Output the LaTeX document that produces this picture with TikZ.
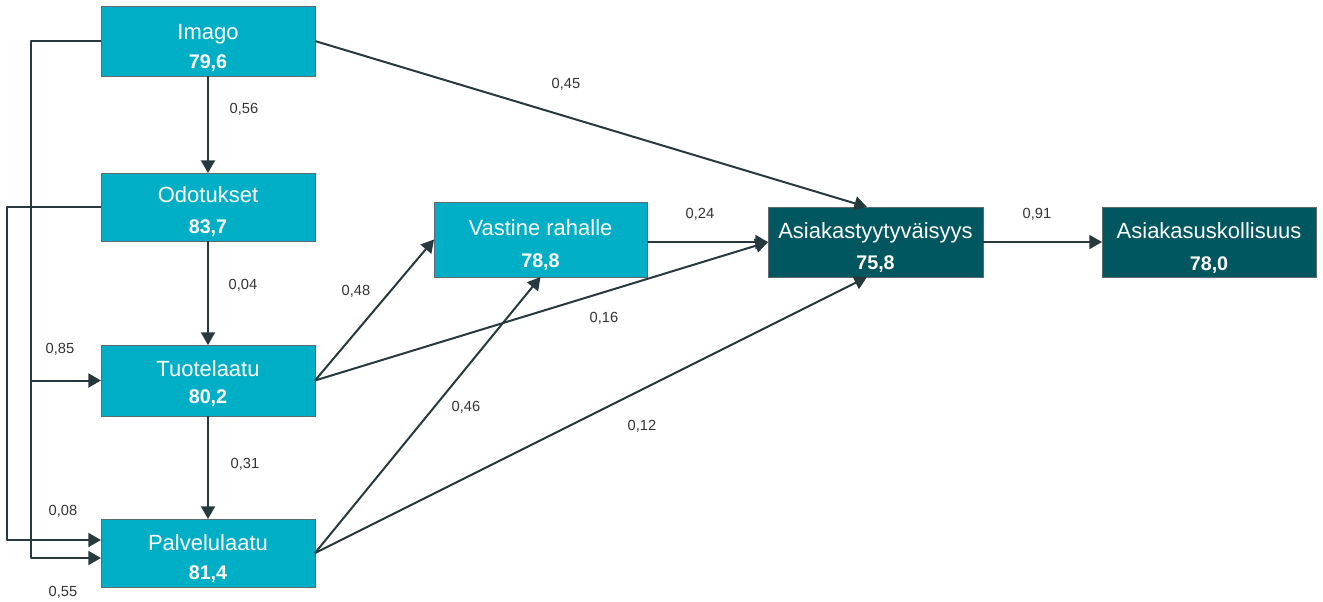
\documentclass[tikz,border=0pt]{standalone}
\usepackage{fontspec}
\setmainfont{Liberation Sans}
\usetikzlibrary{arrows.meta}
\definecolor{boxcyan}{HTML}{00AFC6}
\definecolor{boxdark}{HTML}{00575F}
\definecolor{linec}{HTML}{263A3E}
\definecolor{boxedge}{HTML}{5E6B6E}
\definecolor{labc}{HTML}{333333}
\begin{document}
\begin{tikzpicture}[x=0.75pt,y=-0.75pt,
  lbox/.style={rectangle, fill=boxcyan, draw=boxedge, line width=0.6pt, inner sep=0pt, outer sep=0pt, minimum width=160.5pt},
  dbox/.style={lbox, fill=boxdark},
  ttl/.style={anchor=base, inner sep=0pt, text=white, font=\fontsize{16.5}{19}\selectfont},
  num/.style={anchor=base, inner sep=0pt, text=white, font=\fontsize{14.8}{17}\selectfont\bfseries},
  lab/.style={anchor=base, inner sep=0pt, text=labc, font=\fontsize{11}{13}\selectfont},
  arr/.style={draw=linec, line width=1.5pt, -{Triangle[length=9.5pt,width=10.5pt]}},
  ln/.style={draw=linec, line width=1.5pt}
]
\useasboundingbox (0,0) rectangle (1323,601);

% boxes
\node[lbox, minimum height=52.5pt] (imago) at (208,41) {};
\node[lbox, minimum height=51pt] (odot) at (208,207) {};
\node[lbox, minimum height=53.25pt] (tuote) at (208,380.5) {};
\node[lbox, minimum height=51pt] (palv) at (208,553) {};
\node[lbox, minimum width=159.75pt, minimum height=56.25pt] (vast) at (540.5,239.5) {};
\node[dbox, minimum width=161.25pt, minimum height=52.5pt] (tyyt) at (875.5,242) {};
\node[dbox, minimum height=52.5pt] (usk) at (1209,242) {};

% texts
\node[ttl] (t1) at (208,39) {Imago};
\node[num] (n1) at (208,68) {79,6};
\node[ttl] (t2) at (208,202) {Odotukset};
\node[num] (n2) at (208,233) {83,7};
\node[ttl] (t3) at (208,376) {Tuotelaatu};
\node[num] (n3) at (208,403) {80,2};
\node[ttl] (t4) at (208,550) {Palvelulaatu};
\node[num] (n4) at (208,579) {81,4};
\node[ttl] (t5) at (540.5,235) {Vastine rahalle};
\node[num] (n5) at (540.5,267) {78,8};
\node[ttl] (t6) at (875.5,238) {Asiakastyytyväisyys};
\node[num] (n6) at (875.5,269) {75,8};
\node[ttl] (t7) at (1209,238) {Asiakasuskollisuus};
\node[num] (n7) at (1209,270) {78,0};

% routing coordinates
\coordinate (i1) at (31,41);
\coordinate (i2) at (31,380.5);
\coordinate (i3) at (31,558);
\coordinate (o1) at (7,207);
\coordinate (o2) at (7,540);
\coordinate (palvA) at (101,540);
\coordinate (palvB) at (101,558);
\coordinate (tyytN) at (867,207);
\coordinate (tyytS) at (867,277);

% connectors
\draw[arr] (imago.south) -- (odot.north);
\draw[arr] (odot.south) -- (tuote.north);
\draw[arr] (tuote.south) -- (palv.north);
\draw[arr, line join=round] (imago.west) -- (i1) -- (i3) -- (palvB);
\draw[arr] (i2) -- (tuote.west);
\draw[arr, line join=round] (odot.west) -- (o1) -- (o2) -- (palvA);
\draw[arr] (imago.east) -- (tyytN);
\draw[arr] (tuote.east) -- (vast.west);
\draw[arr] (tuote.east) -- (tyyt.west);
\draw[arr] (vast.east |- tyyt.west) -- (tyyt.west);
\draw[arr] (palv.east) -- (vast.south);
\draw[arr] (palv.east) -- (tyytS);
\draw[arr] (tyyt.east) -- (usk.west);

% labels
\node[lab] (l1) at (244,113) {0,56};
\node[lab] (l2) at (243,289) {0,04};
\node[lab] (l3) at (60,353) {0,85};
\node[lab] (l4) at (245,468) {0,31};
\node[lab] (l5) at (63,515) {0,08};
\node[lab] (l6) at (63,596) {0,55};
\node[lab] (l7) at (356,295) {0,48};
\node[lab] (l8) at (466,411) {0,46};
\node[lab] (l9) at (604,322) {0,16};
\node[lab] (l10) at (642,430) {0,12};
\node[lab] (l11) at (566,88) {0,45};
\node[lab] (l12) at (700,218) {0,24};
\node[lab] (l13) at (1037,218) {0,91};
\end{tikzpicture}
\end{document}
